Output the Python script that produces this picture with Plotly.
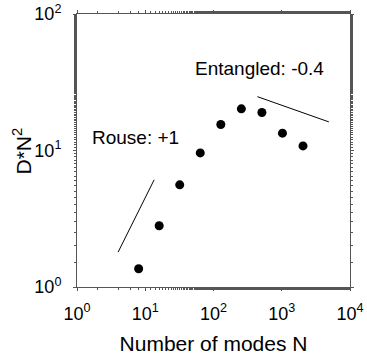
import plotly.graph_objects as go

# Diffusion data: number of modes vs. scaled diffusion coefficient
modes_n = [8, 16, 32, 64, 128, 256, 512, 1024, 2048]
d_n2 = [1.36, 2.81, 5.6, 9.6, 15.5, 20.2, 19.0, 13.4, 10.8]

# Guide lines for the scaling regimes
rouse_x = [4, 13.5]
rouse_y = [1.8, 6.1]
entangled_x = [440, 4900]
entangled_y = [24.8, 16.2]

tick_vals = [1, 10, 100, 1000, 10000]
x_tick_text = ["10<sup>0</sup>", "10<sup>1</sup>", "10<sup>2</sup>", "10<sup>3</sup>", "10<sup>4</sup>"]
y_tick_vals = [1, 10, 100]
y_tick_text = ["10<sup>0</sup>", "10<sup>1</sup>", "10<sup>2</sup>"]

FONT = "Liberation Sans, Arial, Helvetica, sans-serif"
AXIS_COLOR = "#555555"

fig = go.Figure()
fig.add_trace(go.Scatter(x=modes_n, y=d_n2, mode="markers",
                         marker=dict(color="black", size=9), showlegend=False))
fig.add_trace(go.Scatter(x=rouse_x, y=rouse_y, mode="lines",
                         line=dict(color="black", width=1), showlegend=False))
fig.add_trace(go.Scatter(x=entangled_x, y=entangled_y, mode="lines",
                         line=dict(color="black", width=1), showlegend=False))

axis_common = dict(
    type="log", showgrid=False, zeroline=False, automargin=False,
    showline=True, linecolor=AXIS_COLOR, linewidth=1, mirror="allticks",
    ticks="outside", ticklen=3, tickwidth=1, tickcolor=AXIS_COLOR,
    minor=dict(ticks="outside", ticklen=2, tickcolor=AXIS_COLOR, showgrid=False),
    tickfont=dict(family=FONT, size=18, color="black"),
)

fig.update_xaxes(**axis_common, range=[0, 4], tickvals=tick_vals, ticktext=x_tick_text,
                 ticklabelstandoff=7,
                 title=dict(text="Number of modes N", font=dict(family=FONT, size=21, color="black"),
                            standoff=13))
fig.update_yaxes(**axis_common, range=[0, 2], tickvals=y_tick_vals, ticktext=y_tick_text,
                 ticklabelstandoff=8)

# y-axis title, rotated, placed left of the tick labels
fig.add_annotation(text="D*N<sup>2</sup>", xref="paper", yref="paper", x=-0.2015, y=0.5,
                   xanchor="center", yanchor="middle", textangle=-90,
                   showarrow=False, font=dict(family=FONT, size=21, color="black"))

fig.add_annotation(text="Rouse: +1", xref="paper", yref="paper", x=0.2125, y=0.549,
                   xanchor="center", yanchor="middle",
                   showarrow=False, font=dict(family=FONT, size=19, color="black"))
fig.add_annotation(text="Entangled: -0.4", xref="paper", yref="paper", x=0.667, y=0.799,
                   xanchor="center", yanchor="middle",
                   showarrow=False, font=dict(family=FONT, size=19, color="black"))

fig.update_layout(
    width=367, height=356,
    margin=dict(l=77, r=17, t=14, b=69),
    paper_bgcolor="white", plot_bgcolor="white",
    font=dict(family=FONT, color="black"),
)

fig.write_html("out.html")
